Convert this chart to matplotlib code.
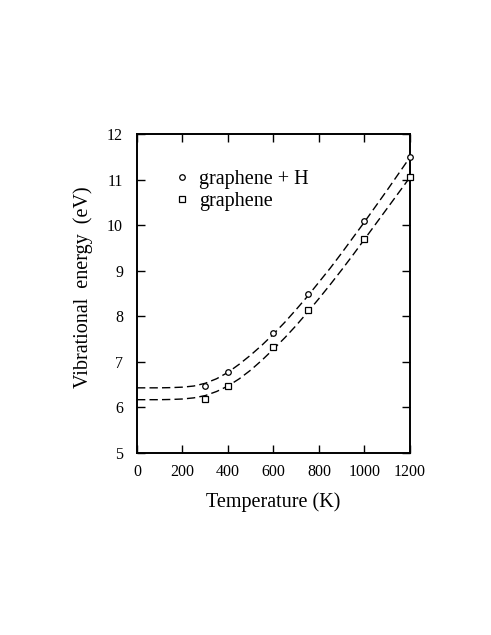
import matplotlib
matplotlib.use("Agg")
import matplotlib.pyplot as plt

plt.rcParams['font.family'] = ['Liberation Serif', 'DejaVu Serif']

# measured points
temp_pts = [300, 400, 600, 750, 1000, 1200]
e_graphene_h = [6.47, 6.77, 7.64, 8.48, 10.08, 11.49]
e_graphene = [6.18, 6.48, 7.32, 8.13, 9.70, 11.06]

# dashed fit curves
temp_fit = [0, 50, 100, 150, 200, 250, 300, 350, 400, 450, 500, 550, 600,
            650, 700, 750, 800, 850, 900, 950, 1000, 1050, 1100, 1150, 1200]
fit_graphene_h = [6.43, 6.43, 6.43, 6.435, 6.445, 6.47, 6.53, 6.63, 6.77, 6.95,
                  7.15, 7.37, 7.61, 7.87, 8.15, 8.44, 8.75, 9.06, 9.39, 9.73,
                  10.07, 10.42, 10.77, 11.13, 11.49]
fit_graphene = [6.17, 6.17, 6.17, 6.175, 6.185, 6.21, 6.26, 6.35, 6.47, 6.63,
                6.82, 7.04, 7.28, 7.53, 7.80, 8.09, 8.39, 8.70, 9.02, 9.35,
                9.69, 10.03, 10.37, 10.71, 11.05]

labels = ["graphene + H", "graphene"]
xticks = [0, 200, 400, 600, 800, 1000, 1200]
yticks = [5, 6, 7, 8, 9, 10, 11, 12]

fig = plt.figure(figsize=(4.91, 6.35), dpi=100)
ax = fig.add_axes([0.279, 0.2866, 0.556, 0.5024])

dash = (0, (6, 3))
ax.plot(temp_fit, fit_graphene_h, color='black', lw=1.0, linestyle=dash)
ax.plot(temp_fit, fit_graphene, color='black', lw=1.0, linestyle=dash)

ax.plot(temp_pts, e_graphene_h, linestyle='none', marker='o', ms=4.0,
        mfc='white', mec='black', mew=0.9, label=labels[0], clip_on=False, zorder=3)
ax.plot(temp_pts, e_graphene, linestyle='none', marker='s', ms=4.0,
        mfc='white', mec='black', mew=0.9, label=labels[1], clip_on=False, zorder=3)

ax.set_xlim(0, 1200)
ax.set_ylim(5, 12)
ax.set_xticks(xticks)
ax.set_yticks(yticks)
ax.tick_params(direction='in', length=6, width=1.0, top=True, right=True,
               labelsize=11.5)
ax.tick_params(axis='x', pad=8)
ax.tick_params(axis='y', pad=10)
for s in ax.spines.values():
    s.set_linewidth(1.4)

ax.set_xlabel("Temperature (K)", fontsize=14.5, labelpad=8.5)
ax.set_ylabel("Vibrational  energy  (eV)", fontsize=14.5)
ax.yaxis.set_label_coords(-0.16, 0.519)

ax.legend(loc='upper left', bbox_to_anchor=(0.136, 0.887), frameon=False,
          fontsize=14.5, handlelength=0.8, handletextpad=0.45,
          borderpad=0, borderaxespad=0, labelspacing=0.15, numpoints=1)

fig.savefig("out.png", dpi=100, facecolor='white')
